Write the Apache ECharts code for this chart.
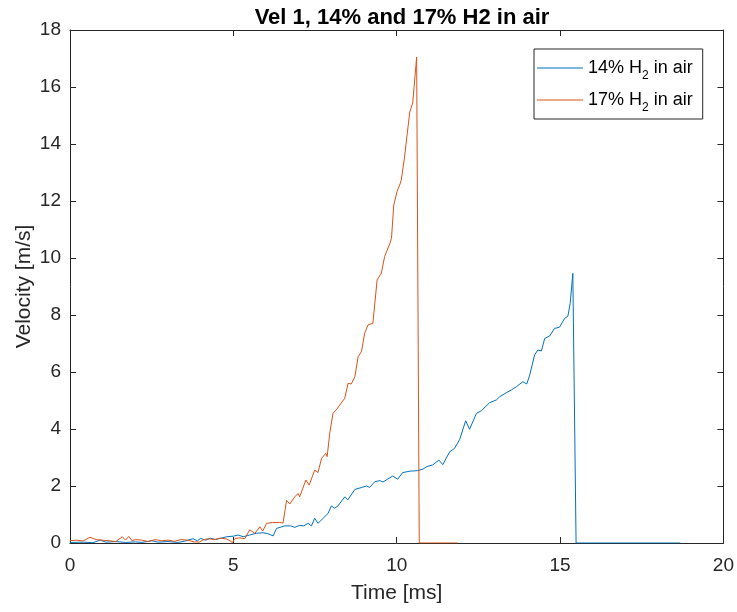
<!DOCTYPE html>
<html>
<head>
<meta charset="utf-8">
<title>Vel 1</title>
<script src="https://cdn.jsdelivr.net/npm/echarts@6/dist/echarts.min.js"></script>
<style>
  html, body { margin: 0; padding: 0; background: #fff; }
  #chart { width: 737px; height: 612px; }
</style>
</head>
<body>
<div id="chart"></div>
<script>
var seriesNames = ['14% H2 in air', '17% H2 in air'];

// 14% H2 - time [ms] / velocity [m/s]
var t14 = [0, 0.4, 0.7, 0.92, 1.1, 1.4, 1.7, 2.0, 2.2, 2.5, 2.7, 3.0, 3.3, 3.5, 3.76, 3.9, 4.0, 4.15, 4.3, 4.45, 4.59,
  4.8, 5.0, 5.15, 5.3, 5.5, 5.7, 5.91, 6.05, 6.22, 6.32, 6.57, 6.75, 6.88, 7.03, 7.15, 7.29, 7.39, 7.49, 7.59, 7.75, 7.9,
  8.0, 8.1, 8.2, 8.41, 8.5, 8.72, 8.93, 9.08, 9.17, 9.33, 9.48, 9.58, 9.72, 9.88, 10.03, 10.18, 10.4, 10.64, 10.8,
  10.92, 11.1, 11.29, 11.41, 11.62, 11.77, 11.93, 12.11, 12.23, 12.44, 12.59, 12.84, 13.05, 13.15, 13.35, 13.51,
  13.66, 13.86, 13.98, 14.07, 14.22, 14.32, 14.43, 14.53, 14.68, 14.83, 14.98, 15.14, 15.24, 15.31, 15.39, 15.49, 18.68];
var v14 = [0.02, 0.03, 0.01, 0.1, 0.03, 0.05, 0.02, 0.04, 0.02, 0.08, 0.03, 0.05, 0.02, 0.06, 0.15, 0.08, 0.16, 0.1, 0.17, 0.12, 0.16,
  0.22, 0.24, 0.28, 0.22, 0.28, 0.34, 0.36, 0.33, 0.25, 0.51, 0.6, 0.6, 0.55, 0.62, 0.6, 0.69, 0.6, 0.87, 0.69, 0.87, 1.04,
  1.3, 1.22, 1.3, 1.62, 1.51, 1.88, 1.95, 2.0, 1.95, 2.15, 2.19, 2.14, 2.24, 2.35, 2.24, 2.47, 2.52, 2.54, 2.59,
  2.68, 2.74, 2.91, 2.75, 3.2, 3.32, 3.64, 4.29, 3.99, 4.55, 4.64, 4.92, 5.02, 5.13, 5.27, 5.37,
  5.48, 5.66, 5.58, 5.89, 6.6, 6.77, 6.74, 7.18, 7.26, 7.53, 7.57, 7.88, 7.96, 8.41, 9.46, 0, 0];

// 17% H2 - time [ms] / velocity [m/s]
var t17 = [0, 0.2, 0.4, 0.61, 0.8, 1.0, 1.2, 1.4, 1.6, 1.7, 1.8, 1.9, 2.0, 2.2, 2.4, 2.6, 2.8, 3.0, 3.2, 3.4, 3.6,
  3.8, 3.95, 4.1, 4.25, 4.4, 4.6, 4.8, 4.97, 5.05, 5.2, 5.35, 5.5, 5.66, 5.81, 5.9, 6.02, 6.2, 6.42, 6.52, 6.63, 6.73,
  6.88, 6.98, 7.03, 7.22, 7.32, 7.49, 7.59, 7.7, 7.83, 7.87, 7.95, 8.05, 8.16, 8.41, 8.51, 8.61, 8.72, 8.82, 8.92,
  9.02, 9.12, 9.27, 9.33, 9.4, 9.53, 9.63, 9.79, 9.84, 9.91, 10.01, 10.11, 10.14, 10.24, 10.31, 10.4, 10.49, 10.61,
  10.69, 11.87];
var v17 = [0.08, 0.1, 0.07, 0.2, 0.12, 0.1, 0.08, 0.05, 0.22, 0.1, 0.23, 0.08, 0.12, 0.1, 0.05, 0.12, 0.08, 0.1, 0.06, 0.12, 0.1,
  0.04, 0.03, 0.12, 0.15, 0.12, 0.17, 0.14, 0.02, 0.16, 0.18, 0.15, 0.46, 0.34, 0.57, 0.42, 0.69, 0.72, 0.72, 0.7, 1.5, 1.37,
  1.62, 1.74, 1.62, 2.21, 2.03, 2.56, 2.47, 2.97, 3.15, 3.03, 3.85, 4.55, 4.69, 5.08, 5.6, 5.58, 5.84, 6.54, 6.71,
  7.36, 7.65, 7.71, 7.71, 9.23, 9.47, 10.05, 10.51, 10.69, 11.86, 12.33, 12.62, 12.74, 13.54, 14.25, 15.12, 15.44, 17.05,
  0, 0];

var xTicks = { min: 0, max: 20, interval: 5 };
var yTicks = { min: 0, max: 18, interval: 2 };

function pairs(ts, vs) {
  return ts.map(function (t, i) { return [t, vs[i]]; });
}

var axisColor = '#262626';
var font = 'Liberation Sans, Arial, Helvetica, sans-serif';

function makeAxis(pos, ticks, showLabel, name) {
  return {
    type: 'value',
    position: pos,
    min: ticks.min,
    max: ticks.max,
    interval: ticks.interval,
    name: name || '',
    nameLocation: 'middle',
    nameGap: pos === 'left' ? 35 : 40,
    nameMoveOverlap: false,
    nameTextStyle: { fontSize: 21, color: axisColor, fontFamily: font },
    axisLine: { show: true, onZero: false, lineStyle: { color: axisColor, width: 1 } },
    axisTick: { show: true, inside: true, length: 6, lineStyle: { color: axisColor } },
    axisLabel: { show: showLabel, fontSize: 19, color: axisColor, fontFamily: font, margin: pos === 'left' ? 9 : 13 },
    splitLine: { show: false }
  };
}

var chart = echarts.init(document.getElementById('chart'));

var option = {
  animation: false,
  backgroundColor: '#fff',
  title: {
    text: 'Vel 1, 14% and 17% H2 in air',
    left: 397,
    textAlign: 'center',
    top: 2,
    textStyle: { fontSize: 22, fontWeight: 'bold', color: '#000', fontFamily: font }
  },
  grid: { left: 70, right: 13, top: 30, bottom: 69, containLabel: false },
  legend: {
    orient: 'vertical',
    left: 534,
    top: 49,
    padding: [5, 10, 5, 3],
    icon: 'rect',
    itemWidth: 46,
    itemHeight: 1,
    itemGap: 4,
    borderColor: axisColor,
    borderWidth: 1,
    backgroundColor: '#fff',
    data: seriesNames,
    formatter: function (name) { return name.replace('H2', 'H{sub|2}'); },
    textStyle: {
      fontSize: 18,
      lineHeight: 20,
      color: '#000',
      fontFamily: font,
      rich: {
        sub: { fontSize: 12, lineHeight: 12, fontFamily: font, color: '#000', padding: [16, 0, 0, 0] }
      }
    }
  },
  xAxis: [
    makeAxis('bottom', xTicks, true, 'Time [ms]'),
    makeAxis('top', xTicks, false)
  ],
  yAxis: [
    makeAxis('left', yTicks, true, 'Velocity [m/s]'),
    makeAxis('right', yTicks, false)
  ],
  series: [
    {
      name: seriesNames[0],
      type: 'line',
      symbol: 'none',
      data: pairs(t14, v14),
      lineStyle: { width: 1, color: '#0072BD' },
      itemStyle: { color: '#0072BD' },
      z: 2
    },
    {
      name: seriesNames[1],
      type: 'line',
      symbol: 'none',
      data: pairs(t17, v17),
      lineStyle: { width: 1, color: '#D95319' },
      itemStyle: { color: '#D95319' },
      z: 3
    }
  ]
};

chart.setOption(option);
</script>
</body>
</html>
